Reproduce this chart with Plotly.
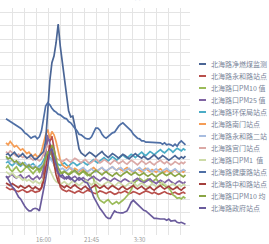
import plotly.graph_objects as go
import pandas as pd

# 15-minute timestamps (categories)
times = [t.strftime("%-H:%M") for t in pd.date_range("2023-01-01 11:30", periods=87, freq="15min")]
tick_idx = [18, 41, 64]
tick_labels = ["16:00", "21:45", "3:30"]

names = ["北海路净燃煤监测", "北海路永和路站点", "北海路口PM10 值", "北海路口PM25 值",
         "北海路环保局站点", "北海路南门站点", "北海路永和路二站", "北海路宫门站点",
         "北海路口PM1  值", "北海路健康路站点", "北海路中和路站点", "北海路口PM10 均",
         "北海路政府站点"]
colors = ["#4a6595", "#b9504c", "#9bbb59", "#8064a2", "#4bacc6", "#f59d56", "#a8bde0",
          "#dba9a6", "#cddba8", "#4f6fa5", "#a43f3c", "#8aa545", "#6a5b9c"]

s01 = [120,122,118,121,124,120,117,119,122,118,115,117,120,116,113,115,118,121,
       125,141,189,231,258,268,288,316,283,258,231,208,186,177,178,163,144,129,123,
       120,118,121,124,122,119,117,120,123,125,121,118,116,119,122,120,117,115,118,121,
       119,116,114,117,120,122,119,117,115,118,116,113,115,118,120,117,114,116,119,117,
       115,112,114,117,119,116,114,117,115,118]
s02 = [72,70,68,69,67,66,65,67,68,66,64,65,67,66,64,65,66,70,
       90,125,145,140,148,130,110,85,72,
       68,66,65,67,66,64,63,65,66,64,63,65,67,66,64,63,62,64,66,65,
       63,62,64,65,63,61,62,64,63,65,66,64,62,63,65,64,62,61,63,64,
       66,65,63,62,64,63,61,62,64,65,63,62,61,63,64,62,61,63,64,62]
s03 = [100,104,98,95,99,102,97,94,96,100,103,99,95,92,96,99,94,98,
       110,120,115,125,118,105,98,95,92,
       94,96,93,91,94,97,95,92,90,93,95,92,89,91,88,84,
       70,58,52,50,48,51,53,49,46,48,50,47,49,52,55,58,62,68,
       75,80,82,85,83,80,82,84,81,79,82,84,80,78,76,74,72,70,66,
       60,58,55,56,54,57,55]
s04 = [88,86,89,91,87,85,88,90,86,84,87,89,85,83,86,88,84,87,
       100,130,150,138,120,108,98,92,88,
       86,84,87,85,83,86,88,85,82,84,86,83,81,84,86,88,85,83,81,84,
       86,84,82,80,83,85,83,81,79,82,84,82,80,78,81,83,85,82,80,78,
       80,82,84,81,79,77,80,82,80,78,81,83,80,78,76,79,81,79,77,80]
s05 = [108,110,106,104,107,109,105,103,106,108,104,102,105,107,103,101,104,106,
       112,118,122,116,112,110,108,106,104,
       106,108,105,103,106,109,107,104,106,108,110,107,105,108,111,113,110,108,111,114,
       116,113,111,114,117,115,112,115,118,120,117,115,118,121,119,116,119,122,124,121,
       119,122,125,123,120,123,126,128,125,123,126,129,127,124,127,130,128,126,129,127]
s06 = [138,135,140,136,132,134,130,127,129,125,122,124,120,118,121,117,119,125,
       140,150,158,145,155,150,140,125,112,
       105,102,100,103,99,97,100,98,95,97,99,96,94,97,99,101,98,96,99,101,
       97,95,98,100,102,99,97,100,98,96,99,101,98,96,94,97,99,97,95,98,
       100,97,95,98,96,94,97,99,96,94,97,95,93,96,98,95,93,96,94,97]
s07 = [115,112,110,113,109,107,110,108,105,107,104,106,103,101,104,102,100,103,
       108,112,118,115,110,105,102,100,98,
       100,98,96,99,101,98,96,94,97,99,101,98,95,97,99,96,94,97,99,101,
       98,96,98,100,102,99,97,99,101,98,96,98,100,97,95,97,99,101,98,96,
       98,100,97,95,97,99,96,94,96,98,100,97,95,97,99,96,94,96,98,96]
s08 = [125,122,126,123,120,118,121,119,116,118,115,117,114,112,115,113,111,114,
       120,128,135,130,124,118,115,113,112,
       110,112,114,111,109,112,115,113,110,108,111,113,110,107,109,112,114,111,108,110,
       113,111,108,106,109,112,110,107,109,111,108,106,109,112,110,107,105,108,111,109,
       106,108,110,107,105,108,110,112,109,107,110,108,105,107,110,108,106,109,107,110]
s09 = [95,92,90,93,89,86,88,85,82,84,81,83,80,78,81,79,77,80,
       85,95,105,98,90,84,80,78,76,
       78,80,77,75,78,81,79,76,74,77,79,82,80,77,75,78,80,77,75,73,
       76,78,80,78,75,73,76,79,77,74,72,75,77,80,78,75,73,76,78,76,
       73,71,74,77,75,72,74,77,79,76,74,72,75,77,74,72,75,73,76,74]
s10 = [174,172,171,168,166,164,162,160,157,153,
       151,148,145,147,148,144,147,156,178,193,
       198,195,190,186,184,181,180,177,175,174,
       170,168,163,160,156,151,150,147,145,144,
       144,147,154,160,160,157,151,147,145,148,
       151,153,154,159,163,166,168,165,162,160,
       156,151,148,145,144,141,141,139,139,139,
       139,139,138,139,138,136,138,135,136,135,
       133,136,133,138,141,138,135]
s11 = [78,76,74,77,75,73,71,74,72,70,72,74,71,69,72,70,68,71,
       80,100,120,135,125,105,90,80,75,
       73,71,74,72,70,73,75,72,70,68,71,73,70,68,71,73,75,72,70,72,
       74,71,69,72,74,72,70,68,71,73,70,68,70,72,74,71,69,71,73,70,
       68,70,72,69,67,70,72,74,71,69,71,73,70,68,70,72,69,67,70,72]
s12 = [118,114,116,112,109,111,107,105,108,104,102,105,101,99,102,100,98,101,
       105,115,125,120,135,128,115,100,95,
       92,95,93,90,92,95,97,94,91,93,96,94,91,89,92,94,97,95,92,90,
       93,95,92,90,88,91,93,90,88,91,93,95,92,90,92,94,91,89,91,93,
       90,88,90,92,89,87,90,92,94,91,89,91,93,90,88,90,92,89,87,90]
s13 = [88,84,78,72,69,63,57,54,48,43,
       39,36,36,39,40,39,36,51,66,84,
       103,126,129,118,103,93,88,
       90,86,84,88,85,82,80,83,86,84,81,79,78,
       73,66,57,51,46,40,36,31,27,25,
       25,31,36,34,33,33,33,34,36,42,
       49,52,49,46,43,40,37,36,33,30,
       27,25,25,24,24,24,24,22,24,21,
       21,22,19,18,19,18,16]

series = [s01, s02, s03, s04, s05, s06, s07, s08, s09, s10, s11, s12, s13]
x_idx = list(range(len(times)))

fig = go.Figure()
draw_order = [1, 2, 3, 4, 5, 6, 7, 8, 10, 11, 0, 9, 12]
for k in draw_order:
    fig.add_trace(go.Scatter(
        x=x_idx, y=series[k], name=names[k], mode="lines",
        customdata=times, hovertemplate="%{customdata}: %{y}<extra></extra>",
        line=dict(color=colors[k], width=1.7), showlegend=False))

W, H = 269, 244
ml, mr, mt, mb = 0, 79, 8, 9
pw, ph = W - ml - mr, H - mt - mb

# manual compact legend
for k, (nm, col) in enumerate(zip(names, colors)):
    py = 64 + 12 * k
    yp = (H - mb - py) / ph
    fig.add_shape(type="line", xref="paper", yref="paper",
                  x0=199 / pw, x1=206 / pw, y0=yp, y1=yp,
                  line=dict(color=col, width=2))
    fig.add_annotation(xref="paper", yref="paper", x=209 / pw, y=yp,
                       xanchor="left", yanchor="middle", showarrow=False,
                       text=nm, font=dict(size=7, color="#7a8599"))

# title (mostly above the visible area, as in the reference)
fig.add_annotation(xref="paper", yref="paper", x=124 / pw, y=(H - mb - 4) / ph,
                   xanchor="center", yanchor="bottom", showarrow=False,
                   text="北海路站点", font=dict(size=11, color="#9fc5e8"))

fig.update_layout(
    width=W, height=H, margin=dict(l=ml, r=mr, t=mt, b=mb),
    paper_bgcolor="white", plot_bgcolor="white",
    font=dict(family="Noto Sans CJK SC, Noto Sans, sans-serif"),
    xaxis=dict(range=[-2.875, 88.17], tickmode="array", tickvals=tick_idx,
               ticktext=tick_labels, showgrid=False, zeroline=False, showline=False,
               ticks="", tickfont=dict(size=6, color="#999999"),
               minor=dict(tickmode="linear", tick0=3.35, dtick=5.75, showgrid=True,
                          gridcolor="#e4e4e4", gridwidth=1, ticks="")),
    yaxis=dict(range=[0, 340], tickmode="linear", tick0=13.5, dtick=20,
               showgrid=True, gridcolor="#e4e4e4", gridwidth=1,
               zeroline=False, showline=False, showticklabels=False, ticks=""),
)

fig.write_html("out.html", config={"displayModeBar": False},
               post_script="document.body.style.margin='0';")
